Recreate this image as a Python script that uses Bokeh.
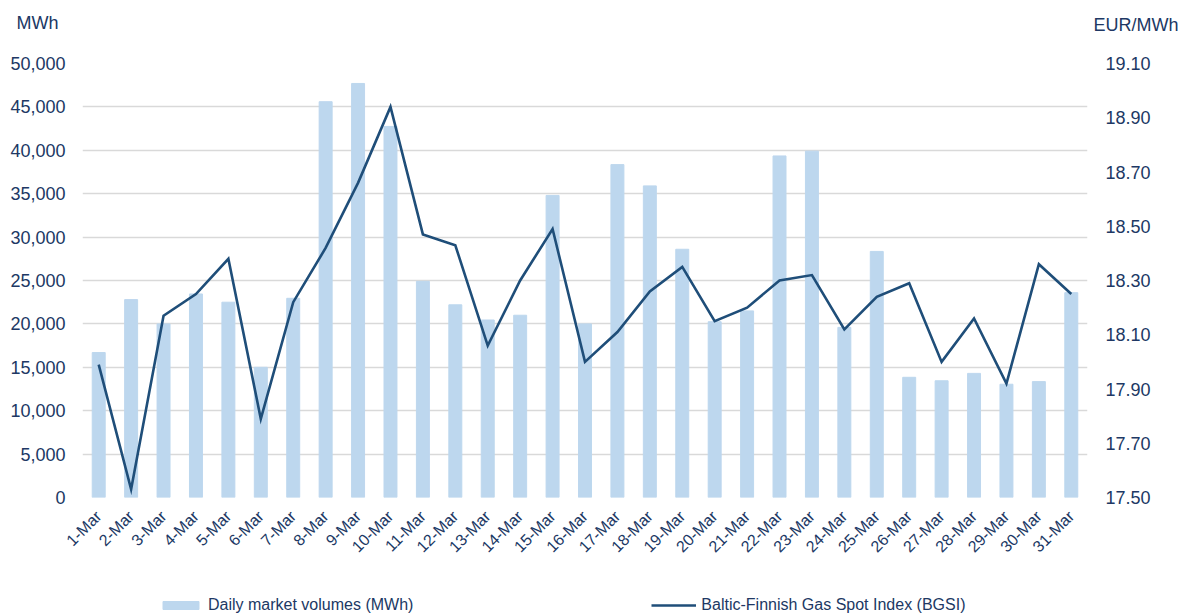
import math
from bokeh.plotting import figure
from bokeh.layouts import column
from bokeh.models import (ColumnDataSource, Range1d, LinearAxis, FixedTicker,
                          NumeralTickFormatter, Legend, LegendItem)
from bokeh.core.properties import value
from bokeh.embed import file_html
from bokeh.resources import INLINE

days = [f"{d}-Mar" for d in range(1, 32)]
volumes = [16700, 22800, 20000, 23450, 22500, 15000, 22950, 45600, 47700, 42750,
           24900, 22200, 20450, 21000, 34800, 20000, 38350, 35900, 28600, 20250,
           21500, 39350, 39900, 19600, 28350, 13850, 13450, 14300, 13050, 13350,
           23600]
bgsi = [17.99, 17.53, 18.17, 18.25, 18.38, 17.79, 18.22, 18.42, 18.66, 18.94,
        18.47, 18.43, 18.06, 18.30, 18.49, 18.00, 18.11, 18.26, 18.35, 18.15,
        18.20, 18.30, 18.32, 18.12, 18.24, 18.29, 18.00, 18.16, 17.92, 18.36,
        18.25]
left_ticks = list(range(0, 50001, 5000))
right_ticks = [17.5, 17.7, 17.9, 18.1, 18.3, 18.5, 18.7, 18.9, 19.1]
unit_left = "MWh"
unit_right = "EUR/MWh"
series_names = ["Daily market volumes (MWh)", "Baltic-Finnish Gas Spot Index (BGSI)"]

TXT = "#203864"
BAR = "#BDD7EE"
LINE = "#1F4E79"
FONT = "Liberation Sans"
W = 1190
TOP_H, MAIN_H, BOT_H = 43, 542, 30


def bare(fig):
    fig.outline_line_color = None
    fig.xgrid.grid_line_color = None
    fig.ygrid.grid_line_color = None
    return fig


def no_align(fig):
    try:
        fig.frame_align = False
    except Exception:
        pass
    return fig


# ---- top strip with the unit captions
top = bare(figure(width=W, height=TOP_H, x_range=Range1d(0, W), y_range=Range1d(0, TOP_H),
                  x_axis_type=None, y_axis_type=None, output_backend="svg",
                  toolbar_location=None, min_border=0))
no_align(top)
top.text(x=[16], y=[TOP_H - 22], text=[unit_left], text_font=value(FONT),
         text_font_size="18px", text_color=TXT, text_baseline="middle", text_align="left")
top.text(x=[1178], y=[TOP_H - 24], text=[unit_right], text_font=value(FONT),
         text_font_size="18px", text_color=TXT, text_baseline="middle", text_align="right")

# ---- main chart
src = ColumnDataSource(dict(day=days, vol=volumes, idx=bgsi))

p = figure(x_range=days, y_range=Range1d(0, 50000), width=W, height=MAIN_H,
           output_backend="svg", toolbar_location=None,
           min_border_left=82, min_border_right=103, min_border_top=20,
           min_border_bottom=88)
no_align(p)
p.outline_line_color = None
p.extra_y_ranges = {"idx": Range1d(17.5, 19.1)}

bars = p.vbar(x="day", top="vol", width=0.4, source=src, color=BAR)
line = p.line(x="day", y="idx", source=src, y_range_name="idx",
              color=LINE, line_width=2.6, line_join="miter")

ax = p.yaxis[0]
ax.ticker = FixedTicker(ticks=left_ticks)
ax.formatter = NumeralTickFormatter(format="0,0")

rax = LinearAxis(y_range_name="idx", ticker=FixedTicker(ticks=right_ticks),
                 formatter=NumeralTickFormatter(format="0.00"))
p.add_layout(rax, "right")

for a in (ax, rax, p.xaxis[0]):
    a.axis_line_color = None
    a.major_tick_line_color = None
    a.minor_tick_line_color = None
    a.major_tick_out = 0
    a.major_tick_in = 0
    a.major_label_text_font = FONT
    a.major_label_text_color = TXT
ax.major_label_text_font_size = "18px"
ax.major_label_standoff = 17
rax.major_label_text_font_size = "18px"
rax.major_label_standoff = 18

xa = p.xaxis[0]
xa.major_label_orientation = math.pi / 4
xa.major_label_text_font_size = "16px"
xa.major_label_standoff = 16

p.xgrid.grid_line_color = None
p.ygrid.ticker = FixedTicker(ticks=left_ticks)
p.ygrid.grid_line_color = "#D9D9D9"
p.ygrid.grid_line_width = 1.5

# ---- bottom strip with the legend (sample glyphs sit outside the visible ranges)
bot = bare(figure(width=W, height=BOT_H, x_range=Range1d(0, 1), y_range=Range1d(0, 1),
                  x_axis_type=None, y_axis_type=None, output_backend="svg",
                  toolbar_location=None, min_border=0))
no_align(bot)
lb = bot.vbar(x=[5], bottom=[5], top=[6], width=0.4, color=BAR)
ll = bot.line(x=[5, 6], y=[5, 5], color=LINE, line_width=2.6)
legend = Legend(items=[LegendItem(label=series_names[0], renderers=[lb]),
                       LegendItem(label=series_names[1], renderers=[ll])],
                orientation="horizontal", location=(158, 0),
                glyph_width=45, glyph_height=10, spacing=238,
                label_text_font=FONT, label_text_font_size="16px",
                label_text_color=TXT, label_standoff=5, label_height=20,
                border_line_color=None, background_fill_alpha=0,
                padding=0, margin=0)
bot.add_layout(legend, "center")

layout = column(top, p, bot, spacing=0)
open("out.html", "w").write(file_html(layout, INLINE))
